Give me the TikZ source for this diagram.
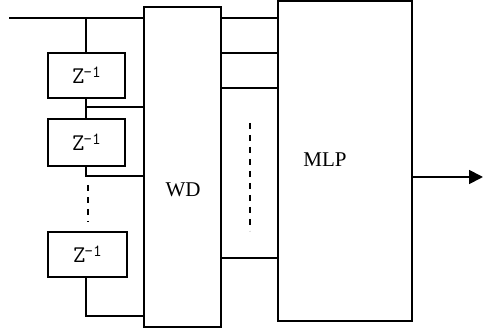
\documentclass[tikz,border=0pt]{standalone}
\usepackage{fontspec}
\setmainfont{Liberation Serif}
\newfontfamily\zmono{Latin Modern Mono}
\usetikzlibrary{arrows.meta}
\tikzset{
  wire/.style={line width=1.8pt, black},
  blk/.style={draw, line width=1.8pt, rectangle, inner sep=0pt, outer sep=0pt},
  zbox/.style={blk, minimum width=77pt, minimum height=45pt},
  dots/.style={line width=1.8pt, dash pattern=on 6pt off 6pt},
  lbl/.style={font=\fontsize{21}{21}\selectfont, inner sep=0pt}
}
\newcommand{\zinv}{{\zmono\fontsize{24}{24}\selectfont Z\kern-1pt\raisebox{6pt}{\fontsize{17}{17}\selectfont -1}}}
\begin{document}
\begin{tikzpicture}[x=1pt, y=-1pt]
\useasboundingbox (0,0) rectangle (483,331);
% blocks
\node[zbox] (z1) at (86.5,75.5) {\zinv};
\node[zbox, minimum height=47pt] (z2) at (86.5,142.5) {\zinv};
\node[zbox, minimum width=79pt] (z3) at (87.5,254.5) {\zinv};
\node[blk, minimum width=77pt, minimum height=320pt] (wd) at (182.5,167) {};
\node[lbl] (wdt) at (183,190) {WD};
\node[blk, minimum width=134pt, minimum height=320pt] (mlp) at (345,161) {};
\node[lbl] (mlpt) at (325,160) {MLP};
% coordinates
\coordinate (in) at (9,18);
\coordinate (out) at (483,177);
% input line
\draw[wire] (in) -- (in -| wd.west);
\draw[wire] (86,18) -- (86,18 |- z1.north);
% delay taps
\draw[wire] (86,0 |- z1.south) -- (86,107) -- (86,107 -| wd.west);
\draw[wire] (86,107) -- (86,0 |- z2.north);
\draw[wire] (86,0 |- z2.south) -- (86,176) -- (86,176 -| wd.west);
\draw[dots] (88,185) -- (88,222);
\draw[wire] (86,0 |- z3.south) -- (86,316) -- (86,316 -| wd.west);
% WD to MLP
\foreach \yy in {18,53,88,258}{
  \draw[wire] (wd.east |- 0,\yy) -- (mlp.west |- 0,\yy);
}
\draw[dots] (250,123) -- (250,231);
% output
\draw[wire, -{Triangle[length=14pt,width=14pt]}] (mlp.east |- out) -- (out);
\end{tikzpicture}
\end{document}
